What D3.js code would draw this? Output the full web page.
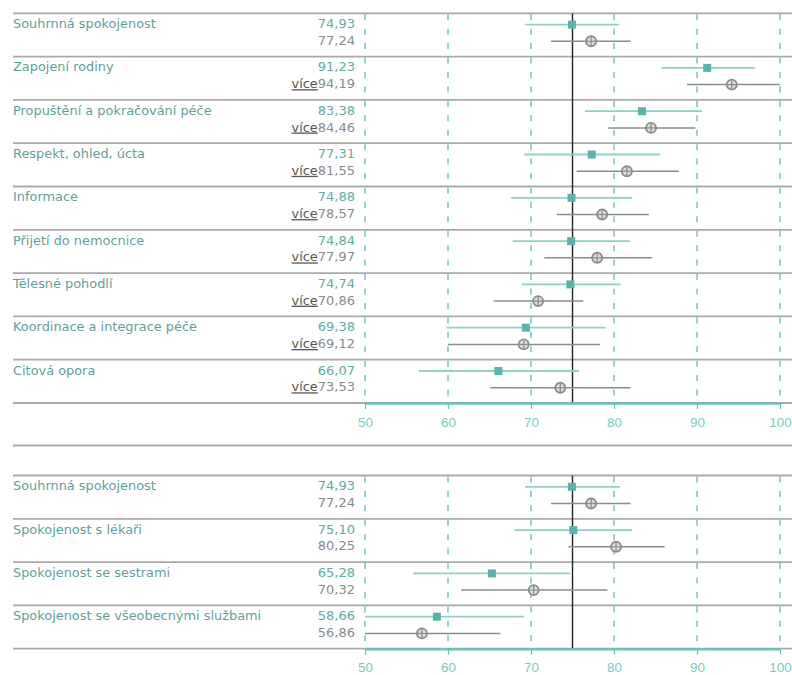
<!DOCTYPE html>
<html><head><meta charset="utf-8">
<script src="https://cdn.jsdelivr.net/npm/d3@7"></script>
<style>
html,body{margin:0;padding:0;background:#fff;}
svg{display:block;}
</style></head>
<body>
<svg id="chart" width="792" height="675"></svg>
<script>
// ---------- DATA ----------
const topCategories = ["Souhrnná spokojenost","Zapojení rodiny","Propuštění a pokračování péče","Respekt, ohled, úcta","Informace","Přijetí do nemocnice","Tělesné pohodlí","Koordinace a integrace péče","Citová opora"];
const topHospital = [74.93, 91.23, 83.38, 77.31, 74.88, 74.84, 74.74, 69.38, 66.07];
const topHospitalLow = [69.3, 85.7, 76.5, 69.2, 67.6, 67.8, 68.9, 59.8, 56.5];
const topHospitalHigh = [80.6, 97.0, 90.6, 85.6, 82.2, 81.9, 80.8, 79.0, 75.8];
const topCompare = [77.24, 94.19, 84.46, 81.55, 78.57, 77.97, 70.86, 69.12, 73.53];
const topCompareLow = [72.4, 88.8, 79.3, 75.5, 73.1, 71.6, 65.5, 60.0, 65.1];
const topCompareHigh = [82.0, 100.0, 89.8, 87.8, 84.2, 84.6, 76.3, 78.3, 82.0];
const topMore = [false, true, true, true, true, true, true, true, true];

const bottomCategories = ["Souhrnná spokojenost","Spokojenost s lékaři","Spokojenost se sestrami","Spokojenost se všeobecnými službami"];
const bottomHospital = [74.93, 75.10, 65.28, 58.66];
const bottomHospitalLow = [69.3, 68.0, 55.8, 50.0];
const bottomHospitalHigh = [80.7, 82.2, 74.7, 69.2];
const bottomCompare = [77.24, 80.25, 70.32, 56.86];
const bottomCompareLow = [72.4, 74.5, 61.6, 50.0];
const bottomCompareHigh = [82.0, 86.1, 79.2, 66.3];
const bottomMore = [false, false, false, false];

const tickValues = [50, 60, 70, 80, 90, 100];
const referenceValue = 75;
const moreLabel = "více";

// ---------- STYLE / LAYOUT ----------
const C = {
  label: "#5f9f9a", num1: "#5eaca4", num2: "#8a8a8a", more: "#555",
  sep: "#a9a9a9", grid: "#62b8b0", axis: "#6cc2b9", tick: "#7ccac2",
  sq: "#5ab3aa", bar1: "#8fd1c9", bar2: "#8c8c8c", ref: "#222"
};
const FONT = "'DejaVu Sans', Verdana, sans-serif";
const FS = 12.9;
const rowH = 43.3;
const leftX = 13, rightX = 792, numX = 355;

const svg = d3.select("#chart");
const x = d3.scaleLinear().domain([50, 100]).range([365, 780]).clamp(true);

function buildRows(cats, h, hl, hh, c, cl, ch, more) {
  return cats.map((cat, i) => ({cat, h: h[i], hl: hl[i], hh: hh[i], c: c[i], cl: cl[i], ch: ch[i], more: more[i]}));
}

function panel(top, rows) {
  const g = svg.append("g");
  const axisY = top + rows.length * rowH;
  const fmt = v => v.toFixed(2).replace(".", ",");

  // gridlines per row
  rows.forEach((r, i) => {
    const y0 = top + i * rowH;
    g.selectAll(null).data(tickValues).enter().append("line")
      .attr("x1", d => x(d)).attr("x2", d => x(d))
      .attr("y1", y0 + 1).attr("y2", y0 + rowH)
      .attr("stroke", C.grid).attr("stroke-width", 1.3)
      .attr("stroke-dasharray", "6,8.4");
  });

  // separators
  const seps = d3.range(rows.length + 1).map(i => top + i * rowH);
  g.selectAll(null).data(seps).enter().append("line")
    .attr("x1", leftX).attr("x2", rightX)
    .attr("y1", d => d).attr("y2", d => d)
    .attr("stroke", C.sep).attr("stroke-width", 1.8);

  // reference line
  g.append("line").attr("x1", x(referenceValue)).attr("x2", x(referenceValue))
    .attr("y1", top).attr("y2", axisY).attr("stroke", C.ref).attr("stroke-width", 1.4);

  // axis
  const ax = g.append("g").attr("transform", `translate(0,${axisY})`)
    .call(d3.axisBottom(x).tickValues(tickValues).tickSize(6).tickSizeOuter(0).tickPadding(8));
  ax.select(".domain").attr("stroke", C.axis).attr("stroke-width", 2.6);
  ax.selectAll(".tick line").attr("stroke", C.axis).attr("stroke-width", 1.3);
  ax.selectAll(".tick text").attr("fill", C.tick)
    .style("font-family", "'Liberation Sans', Arial, sans-serif").style("font-size", "13.5px");

  rows.forEach((r, i) => {
    const y0 = top + i * rowH;
    const y1 = y0 + 11.3, y2 = y0 + 28;
    // labels
    g.append("text").attr("x", leftX).attr("y", y0 + 14.8)
      .attr("fill", C.label).style("font-family", FONT).style("font-size", FS + "px").text(r.cat);
    g.append("text").attr("x", numX).attr("y", y0 + 14.8).attr("text-anchor", "end")
      .attr("fill", C.num1).style("font-family", FONT).style("font-size", "13px").text(fmt(r.h));
    const t2 = g.append("text").attr("x", numX).attr("y", y0 + 31.6).attr("text-anchor", "end")
      .style("font-family", FONT).style("font-size", "13px");
    if (r.more) {
      t2.append("tspan").attr("fill", C.more).style("font-size", FS + "px")
        .style("text-decoration", "underline").text(moreLabel);
    }
    t2.append("tspan").attr("fill", C.num2).text(fmt(r.c));

    // hospital bar
    g.append("line").attr("x1", x(r.hl)).attr("x2", x(r.hh)).attr("y1", y1).attr("y2", y1)
      .attr("stroke", C.bar1).attr("stroke-width", 1.8);
    g.append("rect").attr("x", x(r.h) - 4).attr("y", y1 - 4).attr("width", 8).attr("height", 8)
      .attr("fill", C.sq);
    // comparison bar
    g.append("line").attr("x1", x(r.cl)).attr("x2", x(r.ch)).attr("y1", y2).attr("y2", y2)
      .attr("stroke", C.bar2).attr("stroke-width", 1.5);
    const cx = x(r.c);
    g.append("circle").attr("cx", cx).attr("cy", y2).attr("r", 5)
      .attr("fill", "#dcdcdc").attr("stroke", C.bar2).attr("stroke-width", 1.9);
    g.append("line").attr("x1", cx - 4).attr("x2", cx + 4).attr("y1", y2).attr("y2", y2)
      .attr("stroke", C.bar2).attr("stroke-width", 1.2);
    g.append("line").attr("x1", cx).attr("x2", cx).attr("y1", y2 - 4).attr("y2", y2 + 4)
      .attr("stroke", C.bar2).attr("stroke-width", 1.2);
  });
}

panel(13.3, buildRows(topCategories, topHospital, topHospitalLow, topHospitalHigh, topCompare, topCompareLow, topCompareHigh, topMore));
svg.append("line").attr("x1", leftX).attr("x2", rightX).attr("y1", 445.5).attr("y2", 445.5)
  .attr("stroke", C.sep).attr("stroke-width", 1.8);
panel(475.5, buildRows(bottomCategories, bottomHospital, bottomHospitalLow, bottomHospitalHigh, bottomCompare, bottomCompareLow, bottomCompareHigh, bottomMore));
</script>
</body></html>
